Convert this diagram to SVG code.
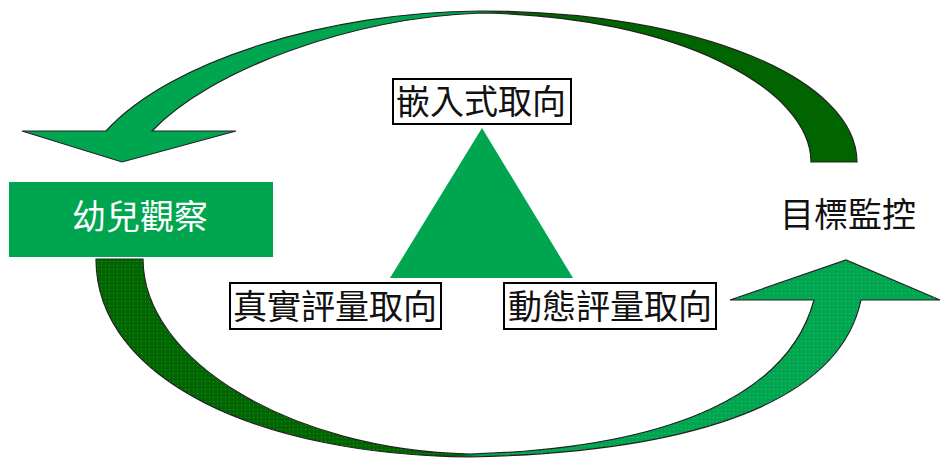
<svg xmlns="http://www.w3.org/2000/svg" width="941" height="459" viewBox="0 0 941 459">
  <style>
    .lbl { font-family: "Noto Sans CJK TC", "Noto Sans CJK SC", sans-serif; font-size: 34px; text-anchor: middle; fill: #111; }
    .box { fill: #fff; stroke: #000; stroke-width: 2; }
    .arrow { stroke: #222; stroke-width: 1.2; stroke-linejoin: miter; }
  </style>
  <defs>
    <linearGradient id="gTop" gradientUnits="userSpaceOnUse" x1="0" y1="0" x2="941" y2="0">
      <stop offset="0" stop-color="#00a550"/>
      <stop offset="0.515" stop-color="#00a550"/>
      <stop offset="0.53" stop-color="#006600"/>
      <stop offset="1" stop-color="#006400"/>
    </linearGradient>
    <linearGradient id="gBot" gradientUnits="userSpaceOnUse" x1="0" y1="0" x2="941" y2="0">
      <stop offset="0" stop-color="#006600"/>
      <stop offset="0.49" stop-color="#006600"/>
      <stop offset="0.51" stop-color="#00a550"/>
      <stop offset="1" stop-color="#00a550"/>
    </linearGradient>
    <pattern id="dots" patternUnits="userSpaceOnUse" width="4" height="4">
      <rect x="1" y="1" width="1" height="1" fill="#ffffff" fill-opacity="0.22"/>
    </pattern>
  </defs>

  <g id="connectors">
    <g id="arrow-top">
      <path class="arrow" fill="url(#gTop)" d="M 857,162 C 857,80 700,11 480,11 C 330,12 170,60 106,131 L 22,131 L 122,162 L 236,131 L 152,131 C 210,70 350,18 480,13 C 680,16 811,90 811,162 Z"/>
    </g>
    <g id="arrow-bottom">
      <path class="arrow" fill="url(#gBot)" d="M 96,259 C 96,380 260,455 470,457 C 700,452 840,400 861,300 L 940,300 L 846,260 L 730,300 L 814,300 C 790,390 680,448 470,454 C 290,450 143,360 143,259 Z"/>
      <path fill="url(#dots)" stroke="none" d="M 96,259 C 96,380 260,455 470,457 C 700,452 840,400 861,300 L 940,300 L 846,260 L 730,300 L 814,300 C 790,390 680,448 470,454 C 290,450 143,360 143,259 Z"/>
    </g>
  </g>

  <g id="node-observation">
    <rect x="9" y="182" width="264" height="75" fill="#00a550"/>
    <text x="140" y="229" class="lbl" style="fill:#fff">幼兒觀察</text>
  </g>

  <g id="node-monitoring">
    <text x="848" y="227" class="lbl">目標監控</text>
  </g>

  <g id="node-triangle">
    <polygon points="482,128 390,278 573,278" fill="#00a550"/>
  </g>

  <g id="node-embedded">
    <rect x="393" y="79" width="178" height="45" class="box"/>
    <text x="481" y="114" class="lbl">嵌入式取向</text>
  </g>

  <g id="node-authentic">
    <rect x="230" y="283" width="211" height="46" class="box"/>
    <text x="335" y="319" class="lbl">真實評量取向</text>
  </g>

  <g id="node-dynamic">
    <rect x="504" y="283" width="212" height="46" class="box"/>
    <text x="610" y="319" class="lbl">動態評量取向</text>
  </g>
</svg>
